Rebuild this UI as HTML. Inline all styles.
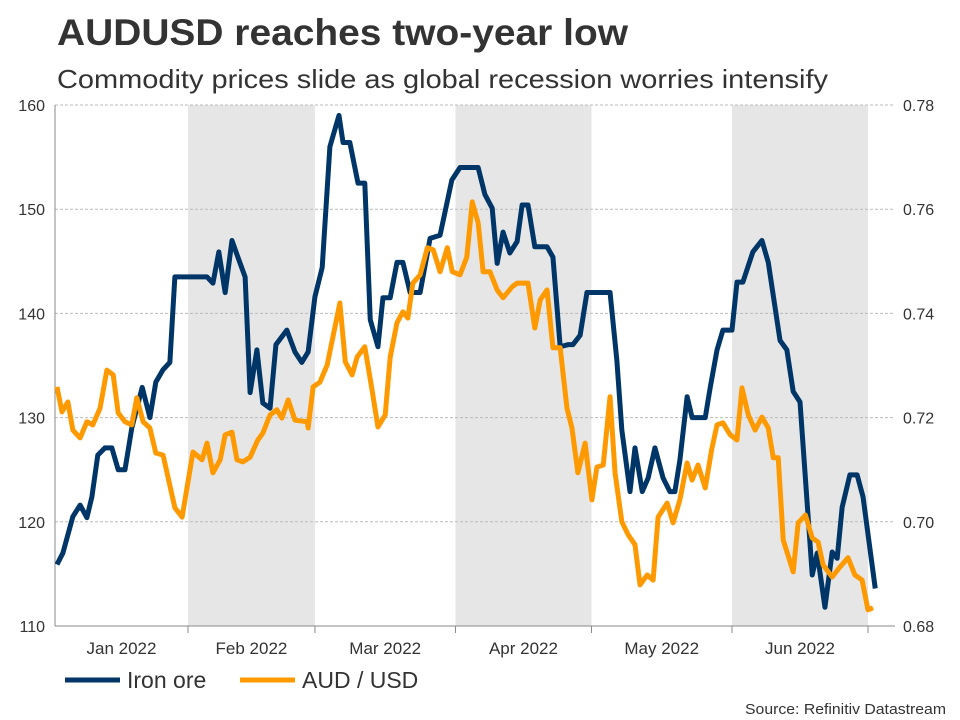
<!DOCTYPE html>
<html><head><meta charset="utf-8">
<style>
body{margin:0;background:#fff;width:960px;height:720px;overflow:hidden;font-family:"Liberation Sans",Arial,sans-serif}
svg{display:block}
</style></head>
<body>
<svg id="chart" width="960" height="720" xmlns="http://www.w3.org/2000/svg">
<text x="57" y="45" font-size="37" font-weight="bold" fill="#333" textLength="571" lengthAdjust="spacingAndGlyphs">AUDUSD reaches two-year low</text>
<text x="57" y="88" font-size="26" fill="#333" textLength="771" lengthAdjust="spacingAndGlyphs">Commodity prices slide as global recession worries intensify</text>
<g id="shade"></g><g id="grid"></g><g id="axes"></g><g id="lines"></g>
<g>
<line x1="65" y1="680" x2="120" y2="680" stroke="#003667" stroke-width="5"/>
<text x="127" y="688" font-size="23" fill="#333">Iron ore</text>
<line x1="240" y1="680" x2="295" y2="680" stroke="#FF9900" stroke-width="5"/>
<text x="302" y="688" font-size="23" fill="#333">AUD / USD</text>
</g>
<text x="946" y="714" font-size="15" fill="#333" text-anchor="end" textLength="201" lengthAdjust="spacingAndGlyphs">Source: Refinitiv Datastream</text>
</svg>
<script>
const leftTicks=[110,120,130,140,150,160];
const rightTicks=["0.68","0.70","0.72","0.74","0.76","0.78"];
const monthLabels=["Jan 2022","Feb 2022","Mar 2022","Apr 2022","May 2022","Jun 2022"];
const monthStarts=[0,31,59,90,120,151,181];
const ironDays=[2.1,3.4,5.6,7.2,8.7,9.8,11.1,12.7,14.2,15.6,17.1,18.6,20.9,22.6,23.9,25.5,27.0,28.1,35.2,36.5,37.8,39.2,40.7,42.0,43.6,44.7,46.2,47.5,49.1,50.4,52.8,54.6,56.1,57.5,59.0,60.6,62.3,64.3,65.2,66.7,68.5,70.0,71.2,72.9,74.0,75.6,77.1,78.4,80.0,82.2,84.4,86.6,89.2,91.0,95.0,96.5,98.1,99.2,100.5,102.0,103.6,104.7,106.0,107.5,110.2,111.5,113.1,114.8,115.9,117.5,119.0,124.1,125.6,126.7,128.5,129.6,131.2,132.5,134.0,135.8,137.3,138.4,139.5,141.1,142.2,145.1,146.2,147.7,149.0,151.0,152.1,153.4,155.6,157.6,159.0,161.6,163.1,164.5,166.0,168.7,169.8,171.5,173.1,174.2,175.3,177.0,178.6,179.9,182.6];
const ironValues=[115.9,117.0,120.5,121.6,120.4,122.4,126.4,127.1,127.1,125.0,125.0,129.0,132.9,130.0,133.4,134.6,135.3,143.5,143.5,142.9,145.9,142.0,147.0,145.4,143.5,132.4,136.5,131.4,130.9,137.0,138.4,136.3,135.3,136.3,141.6,144.4,156.0,159.0,156.4,156.4,152.5,152.5,139.4,136.8,141.5,141.5,144.9,144.9,142.0,142.0,147.2,147.5,152.8,154.0,154.0,151.4,150.1,144.8,147.8,145.8,146.9,150.4,150.4,146.4,146.4,145.4,136.8,137.0,137.0,137.9,142.0,142.0,135.5,128.8,122.9,127.1,122.9,124.2,127.1,124.2,122.9,122.9,125.9,132.0,130.0,130.0,132.9,136.5,138.4,138.4,143.0,143.0,145.9,147.0,144.9,137.4,136.5,132.5,131.5,114.9,117.0,111.8,117.1,116.5,121.4,124.5,124.5,122.4,113.6];
const audDays=[2.1,3.2,4.5,5.6,7.2,8.7,10.0,11.6,13.1,14.5,15.6,17.1,18.6,19.7,21.1,22.6,23.9,25.5,28.1,29.7,32.1,34.1,35.2,36.5,38.1,39.2,40.7,41.8,43.1,44.7,46.4,47.5,49.1,50.6,51.7,53.1,54.6,57.3,57.5,58.6,60.1,61.7,64.5,65.7,67.2,68.3,70.0,71.6,72.9,74.5,75.6,77.1,78.4,79.5,80.6,82.2,83.8,85.1,86.6,88.2,89.3,91.0,92.5,93.7,95.0,96.1,97.6,99.2,100.5,102.5,103.6,106.0,107.5,108.7,110.2,111.5,113.1,114.6,115.7,117.0,118.6,120.1,121.2,122.6,124.1,125.2,126.7,128.1,129.6,130.7,132.3,133.6,134.7,136.7,138.0,139.5,141.1,142.2,143.5,145.1,146.5,147.7,149.0,150.6,152.1,153.2,154.6,156.1,157.6,159.0,160.1,161.2,162.3,164.5,165.6,167.2,168.7,170.0,171.1,173.1,174.8,176.6,178.1,179.7,181.0,182.1];
const audValues=[0.7259,0.7211,0.7230,0.7176,0.7161,0.7192,0.7186,0.7218,0.7291,0.7282,0.7209,0.7192,0.7186,0.7238,0.7192,0.7180,0.7132,0.7128,0.7027,0.7009,0.7134,0.7119,0.7151,0.7094,0.7119,0.7167,0.7172,0.7119,0.7115,0.7124,0.7157,0.7170,0.7205,0.7215,0.7199,0.7234,0.7195,0.7192,0.7180,0.7259,0.7268,0.7301,0.7420,0.7307,0.7282,0.7316,0.7336,0.7253,0.7182,0.7205,0.7316,0.7382,0.7403,0.7391,0.7458,0.7474,0.7526,0.7522,0.7480,0.7526,0.7480,0.7474,0.7508,0.7614,0.7574,0.7480,0.7480,0.7445,0.7430,0.7451,0.7458,0.7458,0.7372,0.7426,0.7445,0.7334,0.7334,0.7218,0.7180,0.7094,0.7151,0.7042,0.7105,0.7109,0.7240,0.7094,0.7000,0.6975,0.6956,0.6879,0.6898,0.6888,0.7009,0.7036,0.6998,0.7042,0.7113,0.7080,0.7109,0.7065,0.7138,0.7186,0.7190,0.7167,0.7157,0.7257,0.7205,0.7176,0.7201,0.7180,0.7123,0.7123,0.6965,0.6904,0.6998,0.7013,0.6969,0.6961,0.6917,0.6894,0.6913,0.6931,0.6898,0.6888,0.6831,0.6835];

const NS="http://www.w3.org/2000/svg";
const PL=55,PR=895,PT=105,PB=626;
const x=d=>188+(d-31)*(680/150);
const yL=v=>PB-(v-110)/(50)*(PB-PT);
const yR=v=>PB-(v-0.68)/(0.10)*(PB-PT);
function mk(tag,attrs,parent){const e=document.createElementNS(NS,tag);for(const k in attrs)e.setAttribute(k,attrs[k]);parent.appendChild(e);return e;}
const shade=document.getElementById('shade'),grid=document.getElementById('grid'),axes=document.getElementById('axes'),lines=document.getElementById('lines');
[1,3,5].forEach(i=>{
  const r=mk('rect',{x:x(monthStarts[i]),y:PT,width:x(monthStarts[i+1])-x(monthStarts[i]),height:PB-PT,fill:'#e6e6e6'},shade);
  
  
});
leftTicks.forEach((v,i)=>{
  const yy=yL(v);
  if(i>0){const g=mk('line',{x1:PL,x2:PR,y1:yy,y2:yy,stroke:'#bbb','stroke-dasharray':'3,2','stroke-width':1},grid);
  
  }
  const t=mk('text',{x:45,y:yy+6,'font-size':16,fill:'#333','text-anchor':'end'},axes);t.textContent=v;
  
  
  const r=mk('text',{x:903,y:yy+6,'font-size':16,fill:'#333'},axes);r.textContent=rightTicks[i];
  
  
});
const la=mk('line',{x1:PL,x2:PL,y1:PT,y2:PB,stroke:'#888','stroke-width':1},axes);


const xa=mk('line',{x1:PL,x2:PR,y1:PB,y2:PB,stroke:'#888','stroke-width':1},axes);


monthLabels.forEach((m,i)=>{
  const s=Math.max(PL,x(monthStarts[i])),e=x(monthStarts[i+1]);
  const tk=mk('line',{x1:e,x2:e,y1:PB,y2:PB+7,stroke:'#888'},axes);
  
  
  const t=mk('text',{x:(s+e)/2,y:654,'font-size':17,fill:'#333','text-anchor':'middle'},axes);t.textContent=m;
  
  
});
const ip=mk('polyline',{points:ironDays.map((d,i)=>x(d)+','+yL(ironValues[i])).join(' '),fill:'none',stroke:'#003667','stroke-width':5,'stroke-linejoin':'round'},lines);


const ap=mk('polyline',{points:audDays.map((d,i)=>x(d)+','+yR(audValues[i])).join(' '),fill:'none',stroke:'#FF9900','stroke-width':5,'stroke-linejoin':'round'},lines);


</script>
</body></html>
